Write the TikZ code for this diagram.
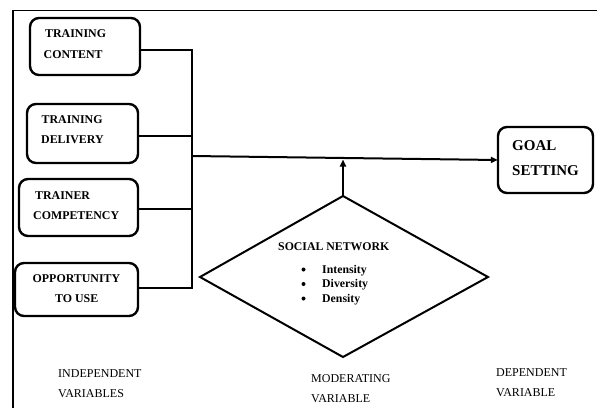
\documentclass[tikz,border=0pt]{standalone}
\usepackage{fontspec}
\setmainfont{Liberation Serif}
\usetikzlibrary{arrows.meta}
\begin{document}
\begin{tikzpicture}[x=1pt,y=-1pt,
  vbox/.style={draw,line width=2.4pt,rounded corners=9pt},
  lbl/.style={anchor=base west,inner sep=0pt,font=\bfseries\fontsize{11.9}{13}\selectfont},
  glbl/.style={anchor=base west,inner sep=0pt,font=\bfseries\fontsize{15}{17}\selectfont},
  snl/.style={anchor=base west,inner sep=0pt,font=\bfseries\fontsize{11.8}{13}\selectfont},
  captxt/.style={anchor=base west,inner sep=0pt,font=\fontsize{12}{14}\selectfont},
  conn/.style={line width=2pt},
  tip/.style={-{Triangle[length=7pt,width=6pt]}}]
\useasboundingbox (0,0) rectangle (597,408);
\fill[white] (0,0) rectangle (597,408);
% frame
\draw[line width=1.8pt] (13,408) -- (13,10.5) -- (597,10.5);
% boxes
\draw[vbox] (30,18) rectangle (140,75);
\node[inner sep=0pt] (b1) at (85,46.5) {};
\draw[vbox] (27,104) rectangle (138,163);
\node[inner sep=0pt] (b2) at (82.5,133.5) {};
\draw[vbox] (19,179) rectangle (138,236);
\node[inner sep=0pt] (b3) at (78.5,207.5) {};
\draw[vbox] (15,263) rectangle (138,316);
\node[inner sep=0pt] (b4) at (76.5,289.5) {};
\draw[vbox] (498,127) rectangle (593,193);
\node[inner sep=0pt,minimum width=95pt,minimum height=66pt] (goal) at (545.5,160) {};
% box texts
\node[lbl] (t1a) at (45,37.7) {TRAINING};
\node[lbl] (t1b) at (43.5,58.3) {CONTENT};
\node[lbl] (t2a) at (41.5,123.3) {TRAINING};
\node[lbl] (t2b) at (41,143.3) {DELIVERY};
\node[lbl] (t3a) at (35,199) {TRAINER};
\node[lbl] (t3b) at (33,219.3) {COMPETENCY};
\node[lbl] (t4a) at (32.5,282.3) {OPPORTUNITY};
\node[lbl] (t4b) at (55,302.7) {TO USE};
\node[glbl] (g1) at (512,150) {GOAL};
\node[glbl] (g2) at (512,175) {SETTING};
% connectors
\coordinate (c1) at (192,50);
\coordinate (c2) at (192,136);
\coordinate (c3) at (192,209);
\coordinate (c4) at (192,288);
\coordinate (m) at (192,156);
\draw[conn] (140,50) -- (c1) -- (c4) -- (138,288);
\draw[conn] (138,136) -- (c2);
\draw[conn] (138,209) -- (c3);
\draw[conn,tip] (m) -- (goal.west);
% diamond
\coordinate (dT) at (343,196);
\coordinate (dR) at (488,277);
\coordinate (dB) at (343,357);
\coordinate (dL) at (200,277);
\draw[line width=2pt,line join=miter] (dT) -- (dR) -- (dB) -- (dL) -- cycle;
\coordinate (up) at (343,159.5);
\draw[conn,tip] (dT) -- (up);
\node[snl] (sn) at (278,250) {SOCIAL NETWORK};
\node[snl] (i1) at (322,273) {Intensity};
\node[snl] (i2) at (322,287.5) {Diversity};
\node[snl] (i3) at (322,302) {Density};
\fill (303.5,269.5) circle (2pt);
\fill (303.5,284) circle (2pt);
\fill (303.5,298.5) circle (2pt);
% captions
\node[captxt] (ind1) at (58,377) {INDEPENDENT};
\node[captxt] (ind2) at (58,397) {VARIABLES};
\node[captxt] (mod1) at (311,382.7) {MODERATING};
\node[captxt] (mod2) at (311,402.7) {VARIABLE};
\node[captxt] (dep1) at (496,376) {DEPENDENT};
\node[captxt] (dep2) at (496,396) {VARIABLE};
\end{tikzpicture}
\end{document}
